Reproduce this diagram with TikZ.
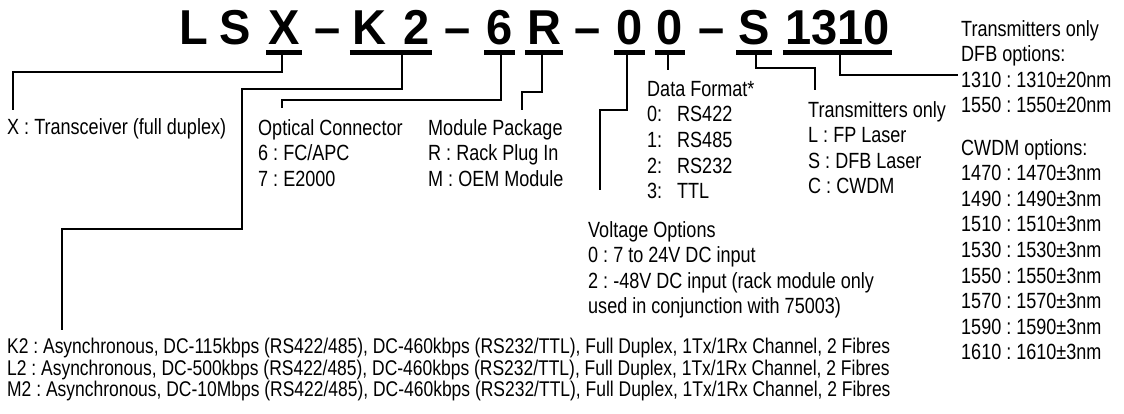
\documentclass[tikz,border=0pt]{standalone}
\usepackage{fontspec}
\setmainfont{Liberation Sans}[FakeStretch=0.82]
\newfontfamily\titlefont{Liberation Sans}[FakeStretch=0.96]
\usetikzlibrary{positioning}
\tikzset{
    codechar/.style={font=\titlefont\fontsize{49}{49}\selectfont\bfseries, anchor=base, inner sep=0pt},
    codebar/.style={line width=5pt, shorten <=-2pt, shorten >=-2pt},
    leader/.style={line width=1.5pt},
    desc/.style={font=\fontsize{22}{25.6}\selectfont, anchor=north west, align=left, inner sep=0pt},
    desclong/.style={desc, font=\fontsize{21.3}{21.5}\selectfont}
}
\newcommand{\fmtnum}[1]{\makebox[30pt][l]{#1}}
\frenchspacing

\begin{document}
\begin{tikzpicture}[x=1pt, y=-1pt]
    \useasboundingbox (0,0) rectangle (1124,414);

    % Part number
    \node[codechar] (cL) at (193.5,45) {L};
    \node[codechar] (cS) at (235,45) {S};
    \node[codechar] (cX) at (284,45) {X};
    \node[codechar] (dA) at (327.5,45) {–};
    \node[codechar] (cK) at (369,45) {K};
    \node[codechar] (c2) at (416.5,45) {2};
    \node[codechar] (dB) at (457.5,45) {–};
    \node[codechar] (c6) at (499.5,45) {6};
    \node[codechar] (cR) at (544,45) {R};
    \node[codechar] (dC) at (587.5,45) {–};
    \node[codechar] (cZa) at (629.5,45) {0};
    \node[codechar] (cZb) at (670,45) {0};
    \node[codechar] (dD) at (712,45) {–};
    \node[codechar] (cT) at (754,45) {S};
    \node[codechar] (cW) at (837.5,45) {1310};

    % Underlines
    \draw[codebar] ([yshift=-7.5pt]cX.base west) -- ([yshift=-7.5pt]cX.base east);
    \draw[codebar] ([yshift=-7.5pt]cK.base west) -- ([yshift=-7.5pt]c2.base east);
    \draw[codebar] ([yshift=-7.5pt]c6.base west) -- ([yshift=-7.5pt]c6.base east);
    \draw[codebar] ([yshift=-7.5pt]cR.base west) -- ([yshift=-7.5pt]cR.base east);
    \draw[codebar] ([yshift=-7.5pt]cZa.base west) -- ([yshift=-7.5pt]cZa.base east);
    \draw[codebar] ([yshift=-7.5pt]cZb.base west) -- ([yshift=-7.5pt]cZb.base east);
    \draw[codebar] ([yshift=-7.5pt]cT.base west) -- ([yshift=-7.5pt]cT.base east);
    \draw[codebar] ([yshift=-7.5pt]cW.base west) -- ([yshift=-7.5pt]cW.base east);

    \coordinate (xbar) at (282,55);
    \coordinate (kbar) at (402,55);
    \coordinate (sixbar) at (501,55);
    \coordinate (rbar) at (542,55);
    \coordinate (zabar) at (627,55);
    \coordinate (zbbar) at (668,55);
    \coordinate (tbar) at (756,55);
    \coordinate (wbar) at (840,55);

    % Descriptions
    \node[desc] (xdesc) at (7,118) {X : Transceiver (full duplex)};
    \node[desc] (optdesc) at (258,119) {Optical Connector\\6 : FC/APC\\7 : E2000};
    \node[desc] (moddesc) at (428,119) {Module Package\\R : Rack Plug In\\M : OEM Module};
    \node[desc] (fmtdesc) at (647,81) {Data Format*\\\fmtnum{0:}RS422\\\fmtnum{1:}RS485\\\fmtnum{2:}RS232\\\fmtnum{3:}TTL};
    \node[desc] (voltdesc) at (588,221) {Voltage Options\\0 : 7 to 24V DC input\\2 : -48V DC input (rack module only\\used in conjunction with 75003)};
    \node[desc] (txdesc) at (808,101) {Transmitters only\\L : FP Laser\\S : DFB Laser\\C : CWDM};
    \node[desc] (dfbdesc) at (961,20) {Transmitters only\\DFB options:\\1310 : 1310±20nm\\1550 : 1550±20nm};
    \node[desc] (cwdmdesc) at (961,139) {CWDM options:\\1470 : 1470±3nm\\1490 : 1490±3nm\\1510 : 1510±3nm\\1530 : 1530±3nm\\1550 : 1550±3nm\\1570 : 1570±3nm\\1590 : 1590±3nm\\1610 : 1610±3nm};
    \node[desclong] (kdesc) at (7,338) {K2 : Asynchronous, DC-115kbps (RS422/485), DC-460kbps (RS232/TTL), Full Duplex, 1Tx/1Rx Channel, 2 Fibres\\L2 : Asynchronous, DC-500kbps (RS422/485), DC-460kbps (RS232/TTL), Full Duplex, 1Tx/1Rx Channel, 2 Fibres\\M2 : Asynchronous, DC-10Mbps (RS422/485), DC-460kbps (RS232/TTL), Full Duplex, 1Tx/1Rx Channel, 2 Fibres};

    % Leaders
    \draw[leader] (xbar) -- ++(0,17) -| ([shift={(6pt,8pt)}]xdesc.north west);
    \draw[leader] (kbar) -- ++(0,34) -| ++(-160,140) -| ([shift={(55pt,8pt)}]kdesc.north west);
    \draw[leader] (sixbar) -- ++(0,45) -| ([shift={(24pt,11pt)}]optdesc.north west);
    \draw[leader] (rbar) -- ++(0,37) -| ([shift={(94pt,9pt)}]moddesc.north west);
    \draw[leader] (zabar) -- ++(0,55) -| ([shift={(12pt,31pt)}]voltdesc.north west);
    \draw[leader] (zbbar) -- ([shift={(21pt,11pt)}]fmtdesc.north west);
    \draw[leader] (tbar) -- ++(0,13) -| ([shift={(7pt,11pt)}]txdesc.north west);
    \draw[leader] (wbar) |- ([shift={(-3pt,-55pt)}]dfbdesc.north west);
\end{tikzpicture}
\end{document}
